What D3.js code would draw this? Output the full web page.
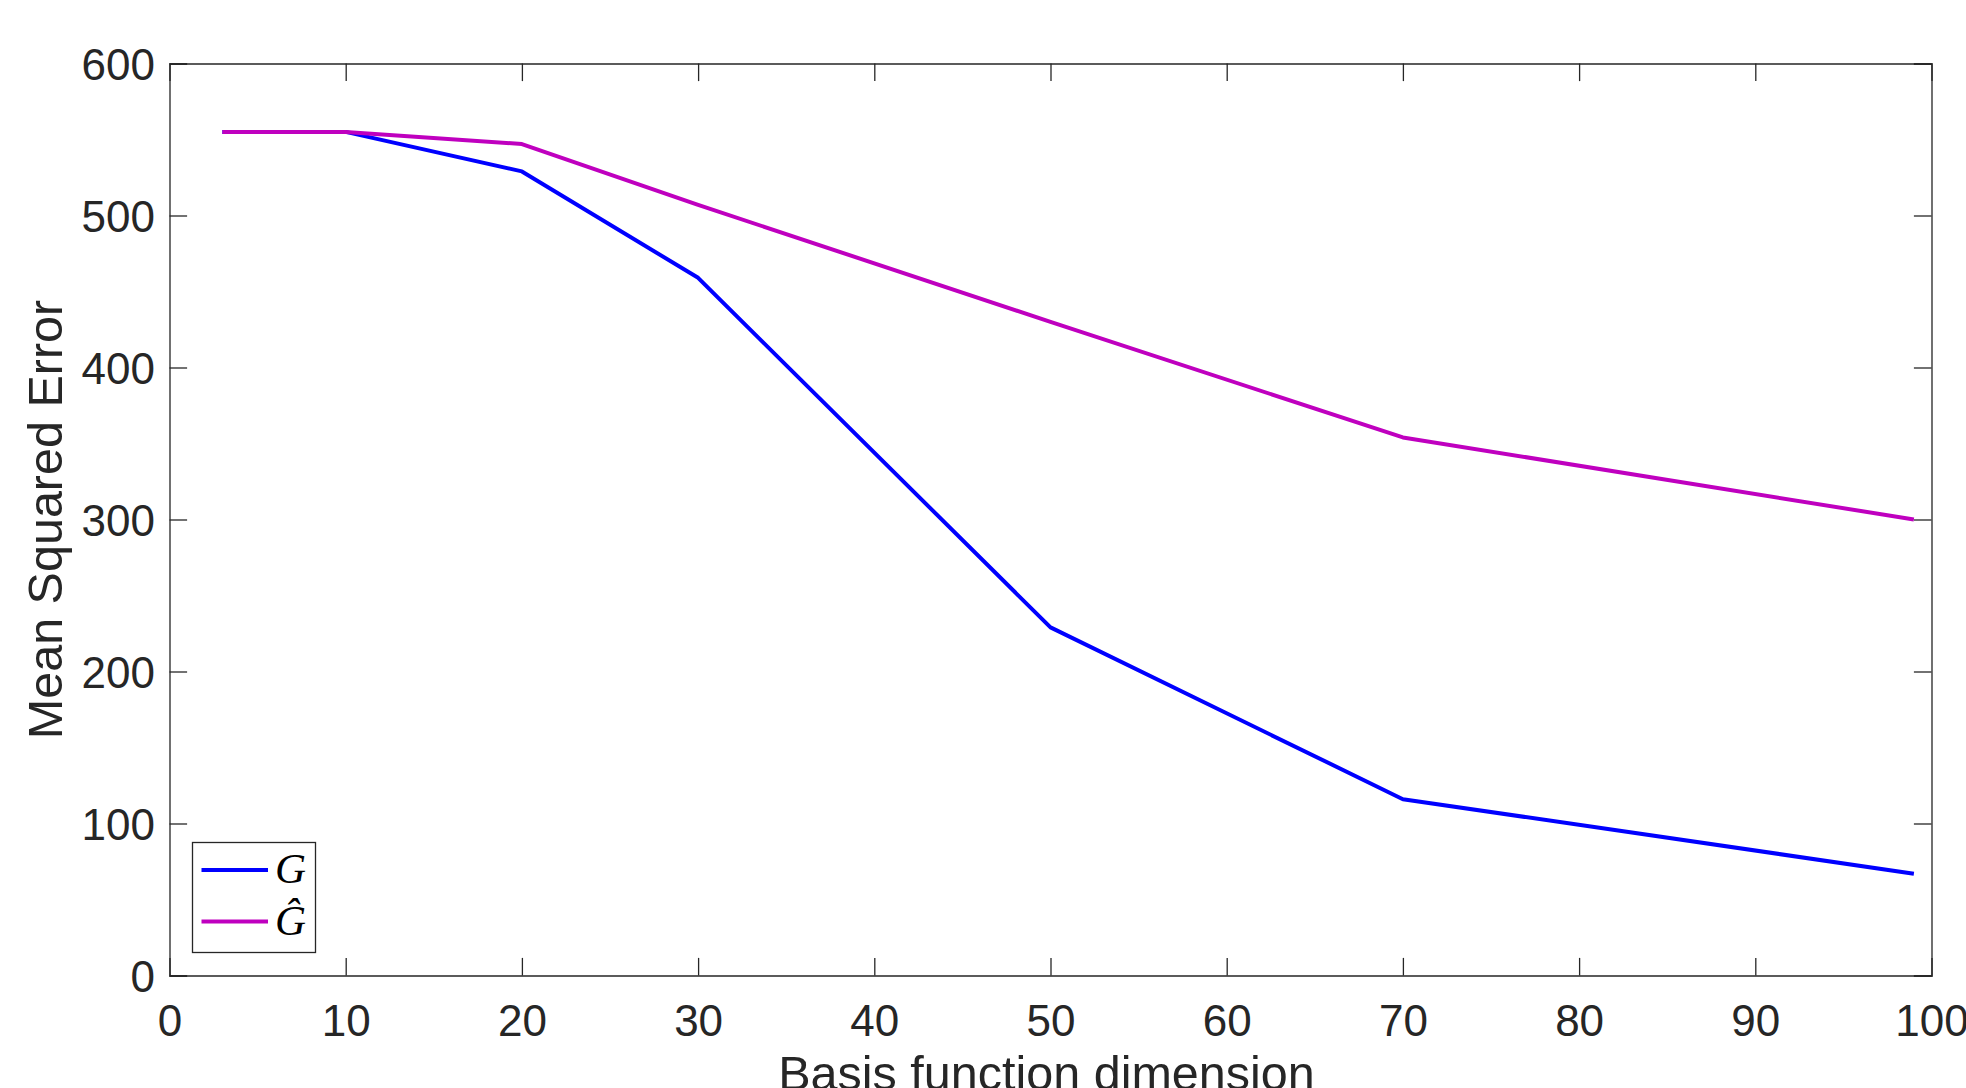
<!DOCTYPE html>
<html>
<head>
<meta charset="utf-8">
<script src="https://cdn.jsdelivr.net/npm/d3@7"></script>
<style>
  html, body { margin: 0; padding: 0; background: #fff; }
  svg { display: block; }
  text { font-family: "Liberation Sans", Arial, Helvetica, sans-serif; fill: #262626; }
</style>
</head>
<body>
<svg id="chart" width="1966" height="1088"></svg>
<script>
// ---- data ----
const dims = [3, 10, 20, 30, 50, 70, 99];
const seriesG = [555, 555, 529, 459, 229, 116, 67];
const seriesGhat = [555, 555, 547, 507, 430, 354, 300];
const xTicks = [0, 10, 20, 30, 40, 50, 60, 70, 80, 90, 100];
const yTicks = [0, 100, 200, 300, 400, 500, 600];
const seriesNames = ["G", "\u011C"];
const seriesColors = ["#0000ff", "#bf00bf"];
const xLabel = "Basis function dimension";
const yLabel = "Mean Squared Error";

// ---- layout ----
const W = 1966, H = 1088;
const L = 169.5, R = 1931.5, T = 63.5, B = 975.5;
const axisColor = "#262626";
const tickLen = 17.6;

const svg = d3.select("#chart");
const x = d3.scaleLinear().domain([0, 100]).range([L, R]);
const y = d3.scaleLinear().domain([0, 600]).range([B, T]);

// lines
const line = d3.line().x((d, i) => x(dims[i])).y(d => y(d));
[seriesG, seriesGhat].forEach((s, k) => {
  svg.append("path")
    .datum(s)
    .attr("d", line)
    .attr("fill", "none")
    .attr("stroke", seriesColors[k])
    .attr("stroke-width", 4)
    .attr("stroke-linejoin", "round");
});

// axes
const fs = 44;
const gx = svg.append("g").attr("transform", `translate(0,${B})`)
  .call(d3.axisBottom(x).tickValues(xTicks).tickSize(-tickLen).tickPadding(0).tickFormat(d3.format("d")));
const gxt = svg.append("g").attr("transform", `translate(0,${T})`)
  .call(d3.axisTop(x).tickValues(xTicks).tickSize(-tickLen).tickFormat(""));
const gy = svg.append("g").attr("transform", `translate(${L},0)`)
  .call(d3.axisLeft(y).tickValues(yTicks).tickSize(-tickLen).tickPadding(0).tickFormat(d3.format("d")));
const gyr = svg.append("g").attr("transform", `translate(${R},0)`)
  .call(d3.axisRight(y).tickValues(yTicks).tickSize(-tickLen).tickFormat(""));

[gx, gxt, gy, gyr].forEach(g => {
  g.select(".domain").attr("stroke", axisColor).attr("stroke-width", 1.3);
  g.selectAll(".tick line").attr("stroke", axisColor).attr("stroke-width", 1.3);
});
gx.selectAll(".tick").filter(d => d === 0 || d === 100).select("line").remove();
gxt.selectAll(".tick").filter(d => d === 0 || d === 100).select("line").remove();

gx.selectAll(".tick text")
  .attr("font-size", fs).attr("font-family", "Liberation Sans, Arial, sans-serif")
  .attr("fill", axisColor).attr("y", 60).attr("dy", 0);
gy.selectAll(".tick text")
  .attr("font-size", fs).attr("font-family", "Liberation Sans, Arial, sans-serif")
  .attr("fill", axisColor).attr("x", -14.5).attr("dy", "0.36em");

// axis labels
svg.append("text")
  .attr("x", (L + R) / 2 - 4).attr("y", 1090)
  .attr("text-anchor", "middle").attr("font-size", 48.5)
  .text(xLabel);
svg.append("text")
  .attr("transform", `translate(62,${(T + B) / 2}) rotate(-90)`)
  .attr("text-anchor", "middle").attr("font-size", 48.5)
  .text(yLabel);

// legend
const lg = svg.append("g");
lg.append("rect")
  .attr("x", 192.5).attr("y", 842.5).attr("width", 123).attr("height", 110)
  .attr("fill", "#fff").attr("stroke", axisColor).attr("stroke-width", 1.3);
const legY = [870, 921.5];
seriesNames.forEach((n, k) => {
  lg.append("line")
    .attr("x1", 201.5).attr("x2", 268).attr("y1", legY[k]).attr("y2", legY[k])
    .attr("stroke", seriesColors[k]).attr("stroke-width", 4);
  lg.append("text")
    .attr("x", 275).attr("y", legY[k] + 13)
    .attr("font-style", "italic").attr("font-size", 43)
    .style("font-family", "'Liberation Serif', 'Times New Roman', serif")
    .style("fill", "#000")
    .text(n);
});
</script>
</body>
</html>
